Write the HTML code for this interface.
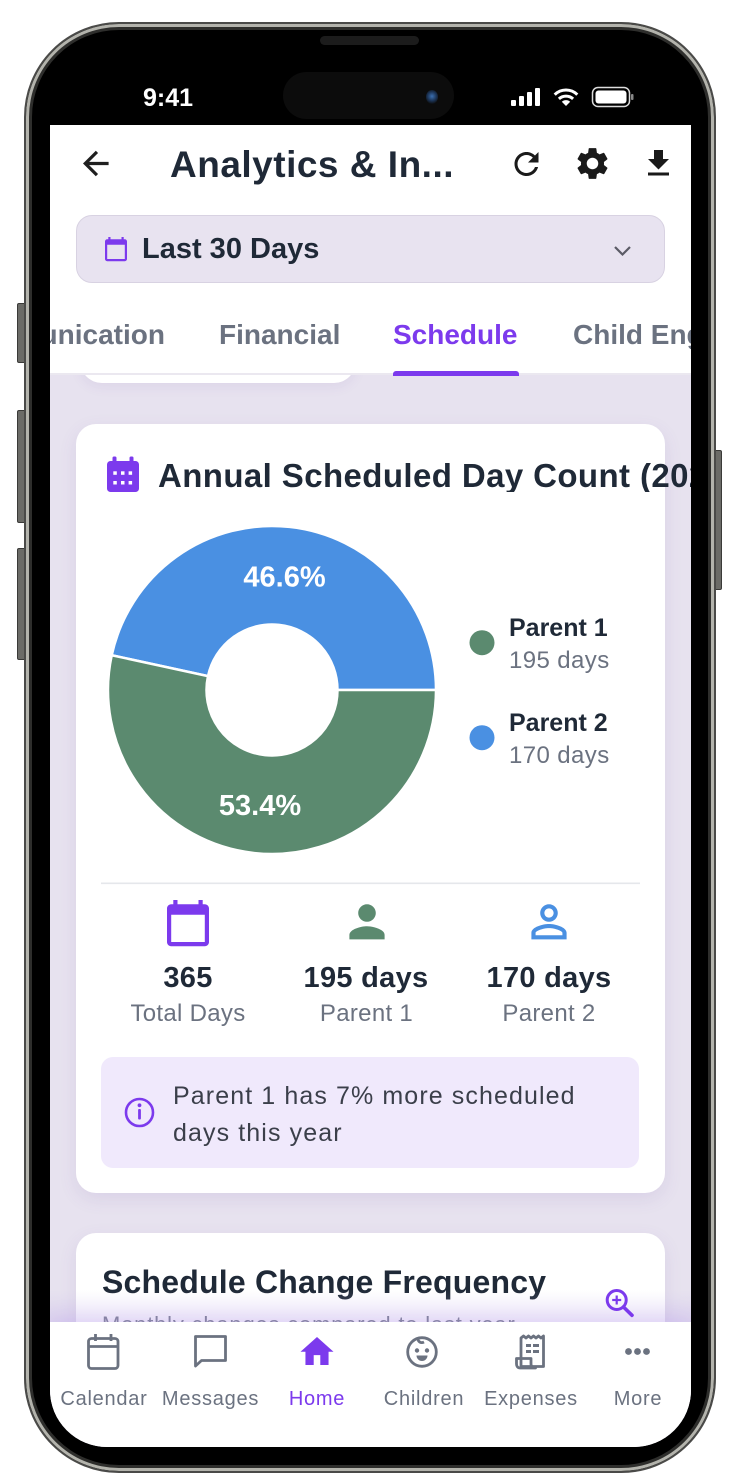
<!DOCTYPE html>
<html><head><meta charset="utf-8">
<style>
*{margin:0;padding:0;box-sizing:border-box}
html,body{width:735px;height:1480px;overflow:hidden;background:#fff;font-family:"Liberation Sans",Arial,sans-serif}
.a{position:absolute}
.t{position:absolute;line-height:1;white-space:nowrap}
.screen{position:absolute;left:0;top:0;width:735px;height:1480px;overflow:hidden;clip-path:inset(125px 44px 33px 50px round 0 0 57px 57px)}
.card{position:absolute;background:#fff;border-radius:20px;box-shadow:0 6px 18px rgba(100,70,160,0.10)}
.nl{position:absolute;width:106px;text-align:center;font-size:20px;line-height:1;letter-spacing:0.75px;color:#6b7280;top:1389px}
.sv{position:absolute;width:200px;text-align:center;font-size:29px;font-weight:bold;line-height:1;color:#1f2937;top:963.5px;letter-spacing:0.3px}
.sl{position:absolute;width:200px;text-align:center;font-size:24px;line-height:1;color:#6b7280;top:1001.7px;letter-spacing:0.3px}
</style></head><body>

<!-- side buttons -->
<div class="a" style="left:17px;top:303px;width:9px;height:60px;background:#6b6b67;border:1px solid #3a3a38;border-radius:2px"></div>
<div class="a" style="left:17px;top:410px;width:9px;height:113px;background:#6b6b67;border:1px solid #3a3a38;border-radius:2px"></div>
<div class="a" style="left:17px;top:548px;width:9px;height:112px;background:#6b6b67;border:1px solid #3a3a38;border-radius:2px"></div>
<div class="a" style="left:714px;top:450px;width:8px;height:140px;background:#6b6b67;border:1px solid #3a3a38;border-radius:2px"></div>

<!-- phone frame -->
<div class="a" style="left:24px;top:22px;width:692px;height:1451px;border-radius:95px;background:#000;border:2px solid #4a4a48;box-shadow:inset 0 0 0 3px #b3b3ac, inset 0 0 0 6px #2e2e2c"></div>
<div class="a" style="left:320px;top:36px;width:99px;height:9px;border-radius:5px;background:#1c1c1c"></div>
<div class="a" style="left:283px;top:72px;width:171px;height:47px;border-radius:24px;background:#0c0c0c"></div>
<div class="a" style="left:426px;top:90px;width:12px;height:14px;border-radius:50%;background:radial-gradient(circle at 50% 45%,#3b6fb0 0,#1c3558 45%,#0c0c0c 80%)"></div>

<!-- status bar -->
<div class="t" style="left:143px;top:86px;font-size:25px;font-weight:bold;color:#fff">9:41</div>
<svg class="a" style="left:0;top:0" width="735" height="130">
  <rect x="511" y="100" width="5" height="6" rx="1" fill="#fff"/>
  <rect x="519" y="96" width="5" height="10" rx="1" fill="#fff"/>
  <rect x="527" y="92" width="5" height="14" rx="1" fill="#fff"/>
  <rect x="535" y="88" width="5" height="18" rx="1" fill="#fff"/>
  <path d="M554.7 94.7 A16 16 0 0 1 577.3 94.7" fill="none" stroke="#fff" stroke-width="3"/>
  <path d="M558.9 98.9 A10.5 10.5 0 0 1 573.1 98.9" fill="none" stroke="#fff" stroke-width="3"/>
  <path d="M566 106 L561.8 101.8 A6 6 0 0 1 570.2 101.8 Z" fill="#fff"/>
  <rect x="592.5" y="87.5" width="37" height="19" rx="5.5" fill="none" stroke="#ddd" stroke-width="1.5"/>
  <rect x="595.5" y="90.5" width="31" height="13" rx="3" fill="#fff"/>
  <rect x="631" y="94" width="2.5" height="6" rx="1" fill="#888"/>
</svg>

<div class="screen">
  <div class="a" style="left:50px;top:125px;width:641px;height:1322px;background:#e7e2ef"></div>

  <div class="a" style="left:80px;top:320px;width:276px;height:63px;background:#fff;border-radius:0 0 22px 22px;box-shadow:0 4px 12px rgba(100,70,160,0.08)"></div>

  <div class="a" style="left:50px;top:125px;width:641px;height:248px;background:#fff"></div>
  <div class="a" style="left:50px;top:373px;width:641px;height:2px;background:#ebe8f0"></div>

  <svg class="a" style="left:0;top:0" width="735" height="380">
    <path transform="translate(76.6,144.3) scale(1.6)" d="M20 11H7.83l5.59-5.59L12 4l-8 8 8 8 1.41-1.41L7.83 13H20v-2z" fill="#1f1f1f"/>
    <path transform="translate(508.5,146) scale(1.5)" d="M17.65 6.35C16.2 4.9 14.21 4 12 4c-4.42 0-7.99 3.58-7.99 8s3.57 8 7.99 8c3.73 0 6.84-2.55 7.730-6h-2.08c-.82 2.33-3.04 4-5.65 4-3.31 0-6-2.69-6-6s2.69-6 6-6c1.66 0 3.140.69 4.22 1.78L13 11h7V4l-2.35 2.35z" fill="#1a1a1a"/>
    <path transform="translate(573.3,144.3) scale(1.6)" d="M19.14,12.94c0.04-0.3,0.06-0.61,0.06-0.94c0-0.32-0.02-0.64-0.07-0.94l2.03-1.58c0.18-0.14,0.23-0.41,0.12-0.61 l-1.92-3.32c-0.12-0.22-0.37-0.29-0.59-0.22l-2.39,0.96c-0.5-0.38-1.03-0.7-1.62-0.94L14.4,2.81c-0.04-0.24-0.24-0.41-0.48-0.41 h-3.84c-0.24,0-0.43,0.17-0.47,0.41L9.25,5.35C8.66,5.59,8.12,5.92,7.630,6.29L5.24,5.33c-0.22-0.08-0.47,0-0.59,0.22L2.74,8.87 C2.62,9.08,2.66,9.34,2.86,9.48l2.03,1.58C4.84,11.36,4.8,11.69,4.8,12s0.02,0.64,0.07,0.94l-2.03,1.58 c-0.18,0.14-0.23,0.41-0.12,0.61l1.92,3.32c0.12,0.22,0.37,0.29,0.59,0.22l2.39-0.96c0.5,0.38,1.03,0.7,1.62,0.94l0.36,2.54 c0.05,0.24,0.24,0.41,0.48,0.41h3.84c0.24,0,0.44-0.17,0.47-0.41l0.36-2.54c0.59-0.24,1.13-0.56,1.62-0.94l2.39,0.96 c0.22,0.08,0.47,0,0.59-0.22l1.92-3.32c0.12-0.22,0.07-0.47-0.12-0.61L19.140,12.94z M12,15.6c-1.98,0-3.6-1.62-3.6-3.6 s1.62-3.6,3.6-3.6s3.6,1.62,3.6,3.6S13.98,15.6,12,15.6z" fill="#1a1a1a"/>
    <path transform="translate(640.5,145.5) scale(1.5)" d="M19 9h-4V3H9v6H5l7 7 7-7zM5 18v2h14v-2H5z" fill="#1a1a1a"/>
  </svg>
  <div class="t" style="left:170px;top:145.7px;font-size:37px;font-weight:bold;color:#1f2937;letter-spacing:0.5px">Analytics &amp; In...</div>

  <div class="a" style="left:76px;top:215px;width:589px;height:68px;border-radius:16px;background:#e8e3f0;border:1.5px solid #d8d2e2"></div>
  <svg class="a" style="left:0;top:200px" width="735" height="80">
    <path transform="translate(102.8,35.9) scale(1.1)" d="M20 3h-1V1h-2v2H7V1H5v2H4c-1.1 0-2 .9-2 2v16c0 1.1.9 2 2 2h16c1.1 0 2-.9 2-2V5c0-1.1-.9-2-2-2zm0 18H4V8h16v13z" fill="#7c3aed"/>
    <polyline points="615,47 622.5,54.5 630,47" fill="none" stroke="#5b5b66" stroke-width="2.2"/>
  </svg>
  <div class="t" style="left:142px;top:234.8px;font-size:29px;font-weight:bold;color:#1f2937">Last 30 Days</div>

  <div class="t" style="left:50px;top:320.6px;font-size:28px;font-weight:bold;color:#6b7280;width:115px;overflow:hidden;direction:rtl"><span style="direction:ltr;unicode-bidi:bidi-override">Communication</span></div>
  <div class="t" style="left:219px;top:320.6px;font-size:28px;font-weight:bold;color:#6b7280">Financial</div>
  <div class="t" style="left:393px;top:320.6px;font-size:28px;font-weight:bold;color:#7c3aed">Schedule</div>
  <div class="t" style="left:573px;top:320.6px;font-size:28px;font-weight:bold;color:#6b7280;width:118px;overflow:hidden">Child Engagement</div>
  <div class="a" style="left:393px;top:371px;width:126px;height:4.5px;background:#7c3aed;border-radius:3px 3px 0 0"></div>

  <div class="card" style="left:76px;top:424px;width:589px;height:769px"></div>
  <svg class="a" style="left:0;top:0" width="735" height="1200">
    <rect x="107" y="461" width="32" height="31" rx="3.5" fill="#7c3aed"/>
    <rect x="112.5" y="456.5" width="4" height="8" rx="1.5" fill="#7c3aed"/>
    <rect x="129.5" y="456.5" width="4" height="8" rx="1.5" fill="#7c3aed"/>
    <g fill="#fff">
      <rect x="113.3" y="471.3" width="3.5" height="3.5"/><rect x="121" y="471.3" width="3.5" height="3.5"/><rect x="128.6" y="471.3" width="3.5" height="3.5"/>
      <rect x="113.3" y="481" width="3.5" height="3.5"/><rect x="121" y="481" width="3.5" height="3.5"/><rect x="128.6" y="481" width="3.5" height="3.5"/>
    </g>
    <path d="M436 690 A164 164 0 0 0 111.73 655.23 L207.99 676.11 A65.5 65.5 0 0 1 337.5 690 Z" fill="#4a90e2" stroke="#fff" stroke-width="2.5" stroke-linejoin="round"/>
    <path d="M111.73 655.23 A164 164 0 1 0 436 690 L337.5 690 A65.5 65.5 0 1 1 207.99 676.11 Z" fill="#5b8a6f" stroke="#fff" stroke-width="2.5" stroke-linejoin="round"/>
    <text x="284.5" y="586.7" text-anchor="middle" font-family="Liberation Sans, Arial, sans-serif" font-size="29" font-weight="bold" fill="#fff">46.6%</text>
    <text x="260" y="815" text-anchor="middle" font-family="Liberation Sans, Arial, sans-serif" font-size="29" font-weight="bold" fill="#fff">53.4%</text>
    <circle cx="482" cy="642.7" r="12.5" fill="#5b8a6f"/>
    <circle cx="482" cy="737.7" r="12.5" fill="#4a90e2"/>
    <rect x="101" y="882.5" width="539" height="1.6" fill="#e5e7eb"/>
    <path transform="translate(162.8,897.9) scale(2.1)" d="M20 3h-1V1h-2v2H7V1H5v2H4c-1.1 0-2 .9-2 2v16c0 1.1.9 2 2 2h16c1.1 0 2-.9 2-2V5c0-1.1-.9-2-2-2zm0 18H4V8h16v13z" fill="#7c3aed"/>
    <path transform="translate(340.6,895.4) scale(2.2)" d="M12 12c2.21 0 4-1.79 4-4s-1.79-4-4-4-4 1.79-4 4 1.79 4 4 4zm0 2c-2.67 0-8 1.34-8 4v2h16v-2c0-2.66-5.33-4-8-4z" fill="#5b8a6f"/>
    <path transform="translate(522.6,895.4) scale(2.2)" d="M12 5.9c1.16 0 2.1.94 2.1 2.1s-.94 2.1-2.1 2.1S9.9 9.16 9.9 8s.94-2.1 2.1-2.1m0 9c2.97 0 6.1 1.46 6.1 2.1v1.1H5.9V17c0-.64 3.13-2.1 6.1-2.1M12 4C9.79 4 8 5.790 8 8s1.79 4 4 4 4-1.79 4-4-1.79-4-4-4zm0 9c-2.67 0-8 1.34-8 4v3h16v-3c0-2.66-5.33-4-8-4z" fill="#4a90e2"/>
  </svg>
  <div class="t" style="left:158px;top:458.8px;font-size:33px;font-weight:bold;color:#1f2937;letter-spacing:0.4px;width:533px;overflow:hidden">Annual Scheduled Day Count (2024)</div>

  <div class="t" style="left:509px;top:615.8px;font-size:25px;font-weight:bold;color:#1f2937">Parent 1</div>
  <div class="t" style="left:509px;top:649px;font-size:24px;color:#6b7280;letter-spacing:0.4px">195 days</div>
  <div class="t" style="left:509px;top:710.5px;font-size:25px;font-weight:bold;color:#1f2937">Parent 2</div>
  <div class="t" style="left:509px;top:743.7px;font-size:24px;color:#6b7280;letter-spacing:0.4px">170 days</div>

  <div class="sv" style="left:88px">365</div>
  <div class="sv" style="left:266px">195 days</div>
  <div class="sv" style="left:449px">170 days</div>
  <div class="sl" style="left:88px">Total Days</div>
  <div class="sl" style="left:266.5px">Parent 1</div>
  <div class="sl" style="left:449px">Parent 2</div>

  <div class="a" style="left:101px;top:1057px;width:538px;height:111px;border-radius:12px;background:#f0e9fc"></div>
  <svg class="a" style="left:0;top:1080px" width="200" height="70">
    <circle cx="139.5" cy="32.5" r="13.5" fill="none" stroke="#7c3aed" stroke-width="2.6"/>
    <circle cx="139.5" cy="25.3" r="1.9" fill="#7c3aed"/>
    <rect x="138.1" y="29" width="2.8" height="10.5" rx="1" fill="#7c3aed"/>
  </svg>
  <div class="a" style="left:173px;top:1078.1px;font-size:25px;line-height:36.5px;color:#3b3f4a;letter-spacing:1.1px;white-space:nowrap">Parent 1 has 7% more scheduled<br>days this year</div>

  <div class="card" style="left:76px;top:1233px;width:589px;height:200px"></div>
  <div class="t" style="left:102px;top:1266.2px;font-size:32px;font-weight:bold;color:#1f2937;letter-spacing:0.2px">Schedule Change Frequency</div>
  <div class="t" style="left:102px;top:1314px;font-size:22px;color:#6b7280;letter-spacing:0.8px">Monthly changes compared to last year</div>
  <div class="a" style="left:50px;top:1290px;width:641px;height:32px;background:linear-gradient(rgba(200,185,235,0),rgba(200,185,235,0.35))"></div>
  <svg class="a" style="left:590px;top:1280px" width="60" height="50">
    <circle cx="26.7" cy="20" r="9.5" fill="none" stroke="#7c3aed" stroke-width="3"/>
    <line x1="33.5" y1="27" x2="42" y2="35.3" stroke="#7c3aed" stroke-width="3.6" stroke-linecap="round"/>
    <line x1="22.2" y1="20" x2="31.2" y2="20" stroke="#7c3aed" stroke-width="2.2"/>
    <line x1="26.7" y1="15.5" x2="26.7" y2="24.5" stroke="#7c3aed" stroke-width="2.2"/>
  </svg>

  <div class="a" style="left:50px;top:1322px;width:641px;height:125px;background:#fff;box-shadow:0 -6px 18px rgba(124,58,237,0.10)"></div>
  <svg class="a" style="left:0;top:1320px" width="735" height="60">
    <g fill="none" stroke="#6b7280" stroke-width="2.8" stroke-linejoin="round">
      <rect x="88.5" y="18.5" width="29.5" height="30" rx="3"/>
      <line x1="88.5" y1="26.5" x2="118" y2="26.5"/>
      <line x1="95.5" y1="14" x2="95.5" y2="21"/>
      <line x1="111" y1="14" x2="111" y2="21"/>
      <path d="M195.5 16.5 H225.5 V40.5 H201.5 L195.5 46 Z"/>
      <circle cx="422" cy="32" r="14.3"/>
      <path d="M418 18.5 C418 22 421 23.5 424 22"/>
      <path d="M521 18 L523.5 16 L526 18 L528.5 16 L531 18 L533.5 16 L536 18 L538.5 16 L541 18 L543.5 16 V46.5 H521 Z"/>
      <path d="M516.5 38.5 H531 V44 C531 46.5 533 48 535.5 48 H520 C518 48 516.5 46.5 516.5 44 Z"/>
    </g>
    <g fill="#6b7280">
      <circle cx="417" cy="30.5" r="2.2"/>
      <circle cx="427" cy="30.5" r="2.2"/>
      <path d="M416.5 35.5 H427.5 A5.5 5.5 0 0 1 416.5 35.5 Z"/>
      <rect x="526" y="24" width="5" height="3"/><rect x="533" y="24" width="6" height="3"/>
      <rect x="526" y="30" width="5" height="3"/><rect x="533" y="30" width="6" height="3"/>
      <circle cx="628.5" cy="31.5" r="3.4"/>
      <circle cx="637.5" cy="31.5" r="3.4"/>
      <circle cx="646.5" cy="31.5" r="3.4"/>
    </g>
    <path transform="translate(297.2,12) scale(1.65)" d="M10 20v-6h4v6h5v-8h3L12 3 2 12h3v8z" fill="#7c3aed"/>
  </svg>
  <div class="nl" style="left:51px">Calendar</div>
  <div class="nl" style="left:157.5px">Messages</div>
  <div class="nl" style="left:264px;color:#7c3aed">Home</div>
  <div class="nl" style="left:371px">Children</div>
  <div class="nl" style="left:478px">Expenses</div>
  <div class="nl" style="left:585px">More</div>
</div>

</body></html>
